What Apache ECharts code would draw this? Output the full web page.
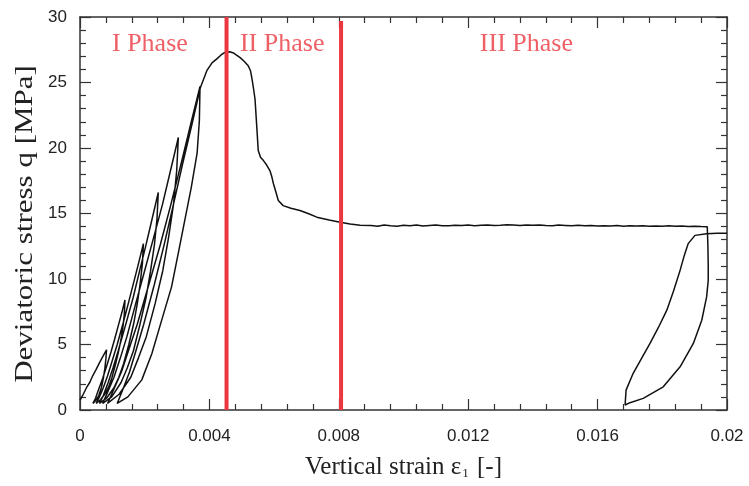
<!DOCTYPE html>
<html>
<head>
<meta charset="utf-8">
<script src="https://cdn.jsdelivr.net/npm/echarts@6/dist/echarts.min.js"></script>
<style>
html,body{margin:0;padding:0;background:#fff;}
#chart{width:749px;height:486px;}
</style>
</head>
<body>
<div id="chart"></div>
<script>
// ---- data (strain [-], deviatoric stress [MPa]) ----
const initialLoad = [[0,0.75],[0.0001,1.2],[0.0002,1.7],[0.0003,2.1],[0.0004,2.65],[0.0005,3.1],[0.0006,3.6],[0.0007,4.05],[0.00082,4.6]];
const unload1 = [[0.0008,3.9],[0.00077,3.2],[0.00072,2.4],[0.00066,1.7],[0.00058,1.1],[0.00048,0.7],[0.0004,0.5]];
const reload2 = [[0.00048,0.9],[0.00058,1.6],[0.0007,2.4],[0.00083,3.4],[0.00096,4.45],[0.00107,5.4],[0.00118,6.4],[0.00129,7.4],[0.00139,8.4]];
const unload2 = [[0.00137,7.3],[0.00133,6.4],[0.00127,5.4],[0.00119,4.45],[0.0011,3.5],[0.00099,2.5],[0.00089,1.8],[0.00079,1.3],[0.00064,0.8],[0.0005,0.5]];
const reload3 = [[0.0006,1.0],[0.00072,1.7],[0.00085,2.6],[0.00097,3.55],[0.00115,5.0],[0.00133,6.6],[0.00149,8.1],[0.00165,9.65],[0.0018,11.1],[0.00196,12.7]];
const unload3 = [[0.00193,11.2],[0.00186,9.65],[0.00177,8.1],[0.00166,6.6],[0.00151,5.0],[0.00135,3.55],[0.0012,2.5],[0.00105,1.7],[0.00082,0.9],[0.0006,0.5]];
const reload4 = [[0.00072,1.1],[0.00087,2.1],[0.00102,3.2],[0.00118,4.5],[0.00141,6.5],[0.00164,8.55],[0.00184,10.6],[0.00204,12.6],[0.00223,14.6],[0.00242,16.6]];
const unload4 = [[0.00238,14.6],[0.0023,12.6],[0.00218,10.6],[0.00204,8.55],[0.00185,6.5],[0.00165,4.5],[0.00146,3.2],[0.00127,2.1],[0.00098,1.0],[0.0007,0.5]];
const reload5 = [[0.00086,1.4],[0.00105,2.5],[0.00125,4.0],[0.00145,5.6],[0.00172,8.1],[0.002,10.65],[0.00228,13.2],[0.00255,15.7],[0.0028,18.3],[0.00304,20.8]];
const unload5 = [[0.00299,18.3],[0.00289,15.7],[0.00274,13.2],[0.00256,10.65],[0.00232,8.1],[0.00205,5.6],[0.00181,4.0],[0.00157,2.5],[0.00121,1.2],[0.00085,0.5]];
const reload6 = [[0.00105,1.6],[0.00128,2.9],[0.00152,4.7],[0.00177,6.55],[0.00213,9.6],[0.00248,12.6],[0.0028,15.6],[0.00311,18.65],[0.00341,21.7],[0.00371,24.7]];
const unload6 = [[0.00369,22.1],[0.00362,19.6],[0.00344,17.0],[0.00324,14.5],[0.00304,12.0],[0.00283,9.4],[0.00253,6.9],[0.00222,4.3],[0.00191,2.3],[0.00148,1.0],[0.00115,0.5]];
const reload7 = [[0.00133,1.6],[0.00153,2.9],[0.00175,4.7],[0.00197,6.55],[0.0023,9.6],[0.0026,12.6],[0.00288,15.6],[0.00316,18.65],[0.00345,21.7],[0.00372,24.6],[0.00392,25.9],[0.00408,26.5],[0.00423,26.8],[0.00436,27.1],[0.00448,27.3],[0.00462,27.35]];
const postPeak = [[0.00475,27.25],[0.00495,26.9],[0.00508,26.6],[0.0052,26.28],[0.00527,25.9],[0.00531,25.38],[0.00536,24.6],[0.00541,23.74],[0.00546,21.8],[0.00551,19.8],[0.00558,19.3],[0.00567,19.04],[0.00577,18.7],[0.00587,18.28],[0.00593,17.8],[0.00598,17.27],[0.00606,16.6],[0.00613,15.99],[0.00628,15.6],[0.00652,15.4],[0.0068,15.23],[0.00705,15.0],[0.00732,14.72],[0.0077,14.5],[0.00804,14.34],[0.00835,14.2],[0.00866,14.1]];
const residual = [[0.0090,14.08],[0.0092,14.02],[0.0094,14.12],[0.0096,14.06],[0.0098,14.03],[0.0100,14.1],[0.0102,14.07],[0.0104,14.12],[0.0106,14.05],[0.0108,14.09],[0.0110,14.13],[0.0112,14.07],[0.0114,14.06],[0.0116,14.11],[0.0118,14.08],[0.0120,14.12],[0.0122,14.07],[0.0124,14.1],[0.0126,14.13],[0.0128,14.08],[0.0130,14.1],[0.0132,14.15],[0.0134,14.12],[0.0136,14.09],[0.0138,14.13],[0.0140,14.1],[0.0142,14.13],[0.0144,14.08],[0.0146,14.07],[0.0148,14.12],[0.0150,14.09],[0.0152,14.06],[0.0154,14.1],[0.0156,14.07],[0.0158,14.09],[0.0160,14.04],[0.0162,14.07],[0.0164,14.05],[0.0166,14.08],[0.0168,14.03],[0.0170,14.06],[0.0172,14.04],[0.0174,14.07],[0.0176,14.02],[0.0178,14.05],[0.0180,14.03],[0.0182,14.06],[0.0184,14.02],[0.0186,14.04],[0.0188,14.01],[0.0190,14.03],[0.0192,14.0],[0.01939,13.98]];
const finalUnload = [[0.01941,12.5],[0.01942,11.0],[0.01942,9.9],[0.01937,8.63],[0.01922,6.85],[0.01896,5.08],[0.01855,3.3],[0.01803,1.77],[0.01741,0.89],[0.017,0.56],[0.01685,0.38]];
const finalReload = [[0.01688,1.52],[0.0171,2.8],[0.01735,3.9],[0.01762,5.08],[0.01788,6.3],[0.01814,7.62],[0.01835,9.1],[0.01855,10.66],[0.01868,11.8],[0.0188,12.7],[0.01901,13.33],[0.01937,13.46],[0.0197,13.5],[0.02,13.5]];

const phaseBoundaries = [0.00453, 0.00807];
const phaseBoundaryTops = [30, 29.7];
const phaseNames = ['I Phase', 'II Phase', 'III Phase'];
const phaseLabelX = [0.00216, 0.00625, 0.0138];
const phaseLabelY = 27.9;

const xTicks = { min: 0, max: 0.02, interval: 0.004 };
const yTicks = { min: 0, max: 30, interval: 5 };
const xTitle = 'Vertical strain ε{sub|1} [-]';
const yTitle = 'Deviatoric stress q [MPa]';

// ---- build ----
const curve = [].concat(initialLoad, unload1, reload2, unload2, reload3, unload3,
  reload4, unload4, reload5, unload5, reload6, unload6, reload7, postPeak,
  residual, finalUnload, finalReload);

const RED = '#eb3740';
const AXIS = '#333';

function baseAxis(pos, range, minorSplit, showLabel) {
  return {
    type: 'value',
    position: pos,
    min: range.min, max: range.max, interval: range.interval,
    axisLine: { show: true, onZero: false, lineStyle: { color: AXIS, width: 1.5 } },
    axisTick: { show: true, inside: true, length: 11, lineStyle: { color: AXIS, width: 1.2 } },
    minorTick: { show: true, splitNumber: minorSplit, length: 6, lineStyle: { color: AXIS, width: 1.2 } },
    splitLine: { show: false },
    minorSplitLine: { show: false },
    axisLabel: { show: showLabel, fontFamily: 'Liberation Sans', fontSize: 17, color: '#222' }
  };
}

const xBottom = baseAxis('bottom', xTicks, 5, true);
xBottom.axisLabel.margin = 18;
xBottom.axisLabel.formatter = v => String(+v.toFixed(4));
xBottom.name = xTitle;
xBottom.nameLocation = 'middle';
xBottom.nameGap = 45;
xBottom.nameTextStyle = {
  fontFamily: 'Liberation Serif', fontSize: 25, color: '#222',
  rich: { sub: { fontFamily: 'Liberation Serif', fontSize: 13, color: '#222', padding: [12, 2, 0, 1] } }
};
const xTop = baseAxis('top', xTicks, 5, false);

const yLeft = baseAxis('left', yTicks, 5, true);
yLeft.axisLabel.margin = 13;
const yRight = baseAxis('right', yTicks, 5, false);

const series = [{
  type: 'line',
  data: curve,
  showSymbol: false,
  smooth: false,
  lineStyle: { color: '#111', width: 1.5 },
  z: 2,
  animation: false
}];

phaseBoundaries.forEach((x, i) => {
  series.push({
    type: 'line',
    data: [[x, 0], [x, phaseBoundaryTops[i]]],
    showSymbol: false,
    lineStyle: { color: RED, width: 4 },
    z: 3,
    animation: false
  });
});

series.push({
  type: 'scatter',
  symbolSize: 0,
  data: phaseNames.map((n, i) => ({ name: n, value: [phaseLabelX[i], phaseLabelY] })),
  label: {
    show: true, position: 'inside', formatter: p => p.name,
    fontFamily: 'Liberation Serif', fontSize: 26, color: RED
  },
  z: 4,
  animation: false
});

const chart = echarts.init(document.getElementById('chart'), null, { renderer: 'canvas' });
chart.setOption({
  animation: false,
  backgroundColor: '#fff',
  grid: { left: 80, right: 22, top: 17, bottom: 76, containLabel: false, outerBoundsMode: 'none' },
  xAxis: [xBottom, xTop],
  yAxis: [yLeft, yRight],
  graphic: [{
    type: 'text',
    x: 25, y: 224,
    rotation: Math.PI / 2,
    scaleX: 1.24,
    style: {
      text: yTitle,
      font: '25px "Liberation Serif"',
      fill: '#222',
      align: 'center',
      verticalAlign: 'middle'
    }
  }],
  series: series
});
</script>
</body>
</html>
